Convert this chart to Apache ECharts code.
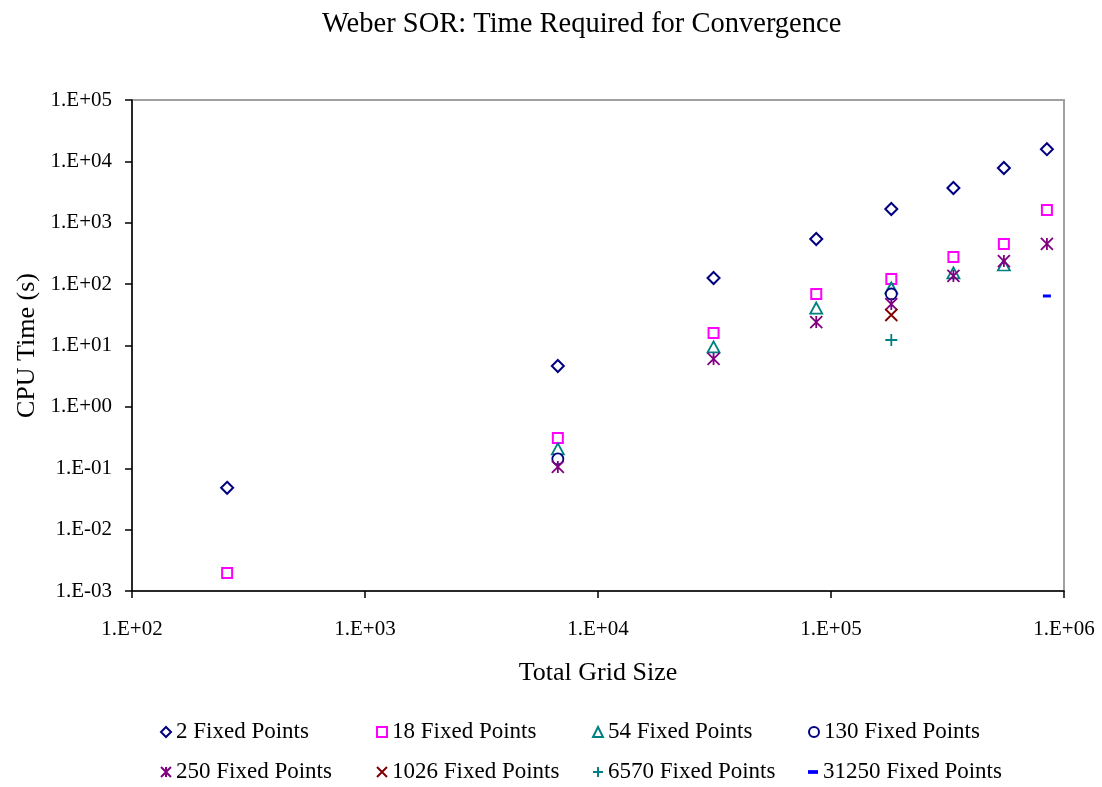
<!DOCTYPE html>
<html>
<head>
<meta charset="utf-8">
<script src="https://cdn.jsdelivr.net/npm/echarts@6/dist/echarts.min.js"></script>
<style>html,body{margin:0;padding:0;background:#fff}#c{width:1102px;height:787px}</style>
</head>
<body>
<div id="c"></div>
<script>
const gridSize = [256, 6724, 31329, 86436, 181476, 335241, 552049, 844561];
const fp2     = [0.048, 4.63, 126, 543, 1675, 3680, 7800, 15800];
const fp18    = [0.00196, 0.311, 16.0, 69, 121, 277, 451, 1614];
const fp54    = [null, 0.206, 9.46, 40.8, 86.5, 152, 205, null];
const fp130   = [null, 0.142, null, null, 69, null, null, null];
const fp250   = [null, 0.105, 6.03, 24.1, 47.4, 136, 238, 451];
const fp1026  = [null, null, null, null, 31.4, null, null, null];
const fp6570  = [null, null, null, null, 12.3, null, null, null];
const fp31250 = [null, null, null, null, null, null, null, 64.1];
const seriesNames = ['2 Fixed Points','18 Fixed Points','54 Fixed Points','130 Fixed Points',
  '250 Fixed Points','1026 Fixed Points','6570 Fixed Points','31250 Fixed Points'];
const xTickLabels = ['1.E+02','1.E+03','1.E+04','1.E+05','1.E+06'];
const yTickLabels = ['1.E-03','1.E-02','1.E-01','1.E+00','1.E+01','1.E+02','1.E+03','1.E+04','1.E+05'];

const FONT = 'Liberation Serif';
function pts(vals){ const o=[]; vals.forEach((v,i)=>{ if(v!=null) o.push([gridSize[i], v]); }); return o; }

const styles = [
  {symbol:'diamond', size:12, color:'#000080', fill:'#fff', bw:2},
  {symbol:'rect', size:10, color:'#FF00FF', fill:'#fff', bw:2},
  {symbol:'triangle', size:[12,11], color:'#008080', fill:'#fff', bw:1.8},
  {symbol:'circle', size:11, color:'#000080', fill:'#fff', bw:1.8},
  {symbol:'path://M0,0 L10,10 M10,0 L0,10 M5,0 L5,10', size:12, color:'#800080', fill:'#800080', bw:1.8},
  {symbol:'path://M0,0 L10,10 M10,0 L0,10', size:12, color:'#800000', fill:'#800000', bw:1.8},
  {symbol:'path://M5,0 L5,10 M0,5 L10,5', size:12, color:'#008080', fill:'#008080', bw:1.8},
  {symbol:'path://M0,0 L8,0 L8,3 L0,3 Z', size:[8,3], color:'#0000FF', fill:'#0000FF', bw:0}
];
const allVals = [fp2, fp18, fp54, fp130, fp250, fp1026, fp6570, fp31250];

const series = allVals.map((v,i)=>({
  type:'scatter', name: seriesNames[i], data: pts(v),
  symbol: styles[i].symbol, symbolSize: styles[i].size,
  itemStyle:{color: styles[i].fill, borderColor: styles[i].color, borderWidth: styles[i].bw, opacity:1},
  emphasis:{disabled:true}
}));

const chart = echarts.init(document.getElementById('c'), null, {renderer:'canvas'});
chart.setOption({
  backgroundColor:'#fff',
  animation:false,
  title:{text:'Weber SOR: Time Required for Convergence', left:317, top:5,
    textStyle:{fontFamily:FONT, fontSize:28.5, fontWeight:'normal', color:'#000'}},
  grid:{left:132, right:38, top:100, bottom:196, show:true, borderColor:'#a0a0a0', borderWidth:2, backgroundColor:'#fff'},
  legend:{
    data: seriesNames, left:155, top:712, width:880, itemGap:10, itemWidth:10, itemHeight:10,
    textStyle:{fontFamily:FONT, fontSize:23, color:'#000', width:190, lineHeight:30, overflow:'none'},
    selectedMode:false
  },
  xAxis:{type:'log', logBase:10, min:100, max:1000000, interval:1,
    name:'Total Grid Size', nameLocation:'middle', nameGap:69,
    nameTextStyle:{fontFamily:FONT, fontSize:26, color:'#000'},
    axisLine:{show:true, lineStyle:{color:'#000', width:1.5}},
    axisTick:{show:true, inside:false, length:7, lineStyle:{color:'#000', width:1.5}},
    minorTick:{show:false}, splitLine:{show:false},
    axisLabel:{margin:28, fontFamily:FONT, fontSize:21, color:'#000',
      formatter:(v)=>xTickLabels[Math.round(Math.log10(v))-2]}
  },
  yAxis:{type:'log', logBase:10, min:0.001, max:100000, interval:1,
    name:'CPU Time (s)', nameLocation:'middle', nameGap:89, nameRotate:90,
    nameTextStyle:{fontFamily:FONT, fontSize:26, color:'#000'},
    axisLine:{show:true, lineStyle:{color:'#000', width:1.5}},
    axisTick:{show:true, inside:false, length:7, lineStyle:{color:'#000', width:1.5}},
    minorTick:{show:false}, splitLine:{show:false},
    axisLabel:{margin:20, fontFamily:FONT, fontSize:21, color:'#000',
      formatter:(v)=>yTickLabels[Math.round(Math.log10(v))+3]}
  },
  series: series
});
</script>
</body>
</html>
